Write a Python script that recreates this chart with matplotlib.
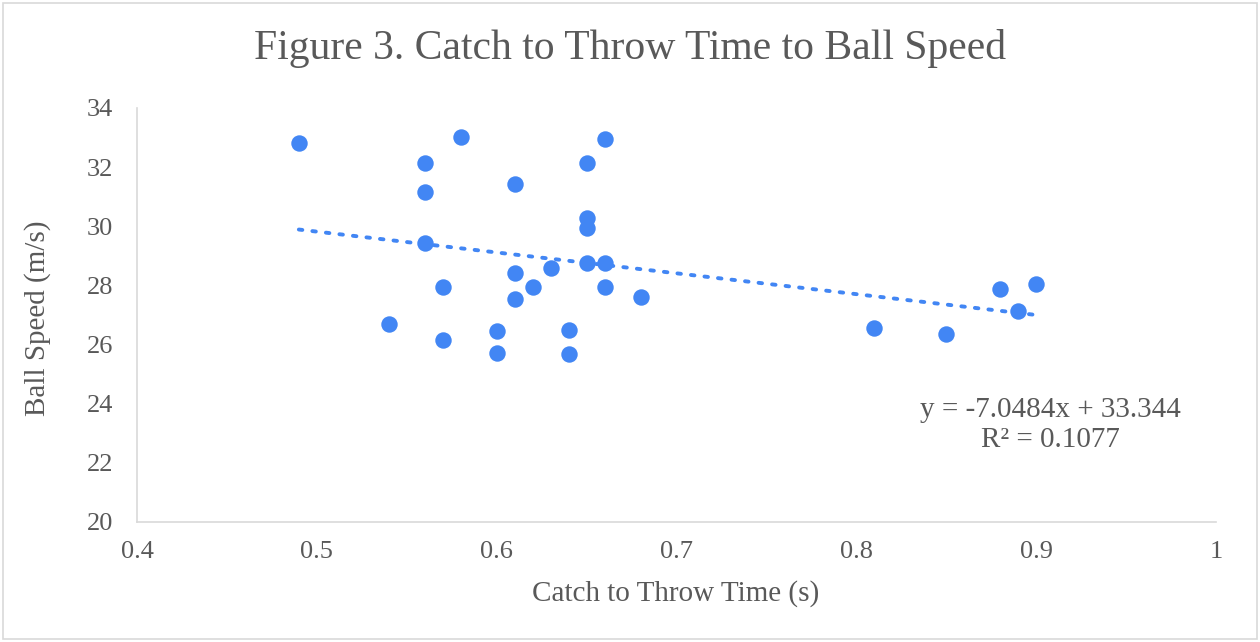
import matplotlib
matplotlib.use("Agg")
import matplotlib.pyplot as plt
from matplotlib.patches import Rectangle

catch_time = [0.49, 0.56, 0.56, 0.56, 0.58, 0.61, 0.65, 0.66, 0.65, 0.65,
              0.65, 0.66, 0.66, 0.63, 0.61, 0.62, 0.61, 0.57, 0.68, 0.54,
              0.57, 0.60, 0.60, 0.64, 0.64, 0.81, 0.85, 0.88, 0.89, 0.90]
ball_speed = [32.82, 32.14, 31.16, 29.43, 33.02, 31.43, 32.14, 32.95, 30.28, 29.94,
              28.76, 28.76, 27.95, 28.59, 28.42, 27.95, 27.54, 27.95, 27.61, 26.70,
              26.15, 26.46, 25.71, 26.49, 25.68, 26.56, 26.36, 27.88, 27.14, 28.05]
slope = -7.0484
intercept = 33.344
r_squared = 0.1077
x_ticks = [0.4, 0.5, 0.6, 0.7, 0.8, 0.9, 1.0]
x_tick_labels = ["0.4", "0.5", "0.6", "0.7", "0.8", "0.9", "1"]
y_ticks = [20, 22, 24, 26, 28, 30, 32, 34]

plt.rcParams['font.family'] = ['Liberation Serif', 'DejaVu Serif']
grey = '#595959'
blue = '#4286f4'

fig = plt.figure(figsize=(12.6, 6.42), dpi=100)
ax = fig.add_axes([137/1260, 1-522/642, (1216-137)/1260, (522-108)/642])

ax.scatter(catch_time, ball_speed, s=140, color=blue, zorder=3, linewidths=0)
x0, x1 = min(catch_time), max(catch_time)
ax.plot([x0, x1], [slope*x0+intercept, slope*x1+intercept], color=blue,
        linestyle=(0, (0.9, 2.6)), linewidth=2.8, dash_capstyle='round', zorder=2)

ax.set_xlim(0.4, 1.0)
ax.set_ylim(20, 34)
ax.set_xticks(x_ticks)
ax.set_xticklabels(x_tick_labels)
ax.set_yticks(y_ticks)
ax.tick_params(length=0, labelsize=19, colors=grey)
ax.tick_params(axis='x', pad=14)
ax.tick_params(axis='y', pad=17)
for s in ['top', 'right']:
    ax.spines[s].set_visible(False)
for s in ['left', 'bottom']:
    ax.spines[s].set_color('#d9d9d9')
    ax.spines[s].set_linewidth(1.2)

ax.text(0.908, 23.27, f"y = {slope}x + {intercept}\nR\u00b2 = {r_squared}",
        ha='center', va='center', multialignment='center', fontsize=21,
        color=grey, linespacing=1.2)

fig.text(0.5, 1-48/642, "Figure 3. Catch to Throw Time to Ball Speed",
         ha='center', va='center', fontsize=30, color=grey)
fig.text(676/1260, 1-594/642, "Catch to Throw Time (s)", ha='center', va='center',
         fontsize=21, color=grey)
fig.text(38/1260, 1-318/642, "Ball Speed (m/s)", ha='center', va='center',
         rotation=90, fontsize=21, color=grey)

fig.patches.append(Rectangle((3/1260, 3/642), 1-6/1260, 1-6/642, transform=fig.transFigure,
                             fill=False, edgecolor='#d9d9d9', linewidth=1.2))

fig.savefig("out.png", dpi=100)
